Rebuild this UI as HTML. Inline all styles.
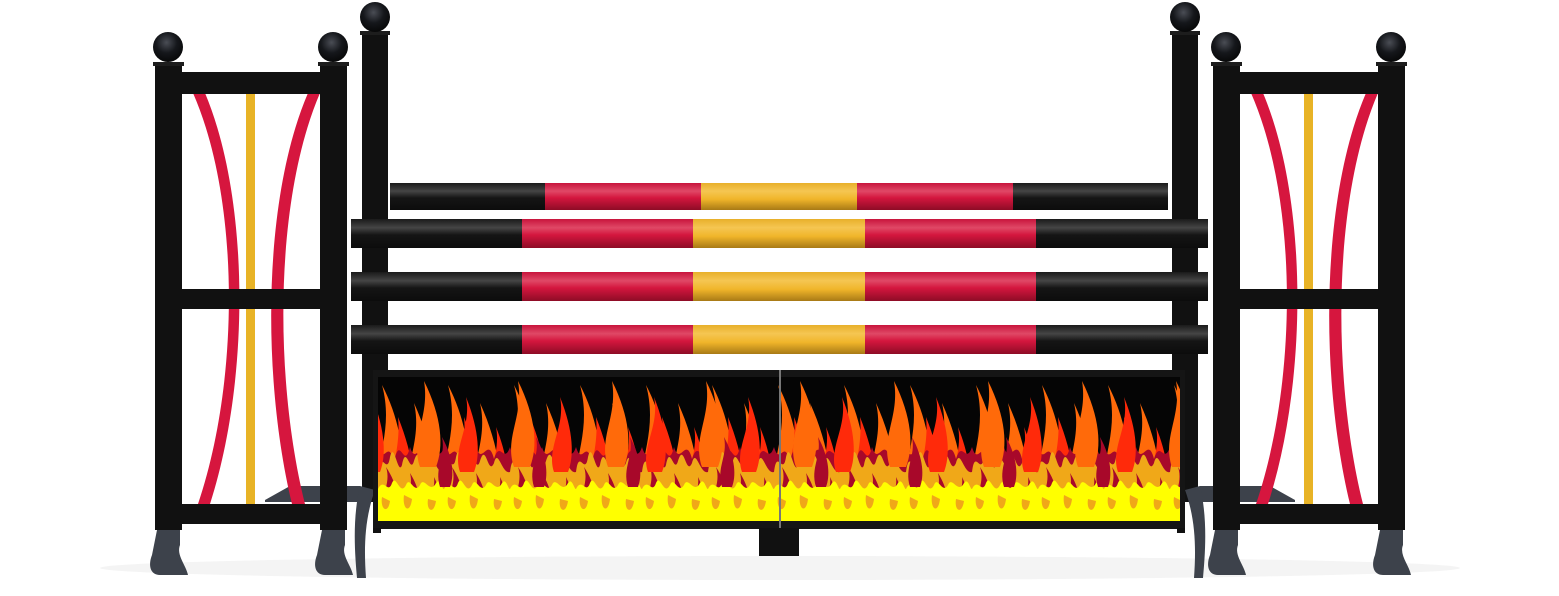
<!DOCTYPE html>
<html><head><meta charset="utf-8"><style>html,body{margin:0;padding:0;background:#fff;width:1559px;height:596px;overflow:hidden}svg{display:block}</style></head>
<body>
<svg width="1559" height="596" viewBox="0 0 1559 596" xmlns="http://www.w3.org/2000/svg">
<defs>
<linearGradient id="gk" x1="0" y1="0" x2="0" y2="1"><stop offset="0" stop-color="#1a1a1a"/><stop offset="0.3" stop-color="#454545"/><stop offset="0.55" stop-color="#151515"/><stop offset="1" stop-color="#0c0c0c"/></linearGradient>
<linearGradient id="gr" x1="0" y1="0" x2="0" y2="1"><stop offset="0" stop-color="#c8143c"/><stop offset="0.3" stop-color="#e04866"/><stop offset="0.55" stop-color="#d4163e"/><stop offset="1" stop-color="#8e0c26"/></linearGradient>
<linearGradient id="gy" x1="0" y1="0" x2="0" y2="1"><stop offset="0" stop-color="#e8b02a"/><stop offset="0.3" stop-color="#f5c652"/><stop offset="0.6" stop-color="#f0b52a"/><stop offset="1" stop-color="#a87a16"/></linearGradient>
<radialGradient id="ball" cx="0.45" cy="0.35" r="0.7"><stop offset="0" stop-color="#4a4d55"/><stop offset="0.5" stop-color="#15171b"/><stop offset="1" stop-color="#050505"/></radialGradient>
<pattern id="fl" x="378" y="377" width="66" height="144" patternUnits="userSpaceOnUse">
<rect width="66" height="144" fill="#050505"/>
<path d="M0,144 C-10,90 18,60 4,8 C26,50 30,100 24,144Z" fill="#ff6a0a"/>
<path d="M30,144 C18,100 46,70 36,26 C56,70 60,110 56,144Z" fill="#ff6a0a"/>
<path d="M12,144 C4,110 24,80 20,40 C36,80 40,115 34,144Z" fill="#ff2a0a"/>
<path d="M44,144 C36,110 58,80 52,50 C68,90 66,120 64,144Z" fill="#ff2a0a"/>
<path d="M0,144 L0,70 C6,90 10,60 16,85 C22,55 26,95 32,70 C38,90 44,58 50,82 C56,62 60,88 66,70 L66,144Z" fill="#a8082a"/>
<path d="M0,144 L0,95 C3,70 9,100 12,80 C16,62 20,100 24,88 C28,66 32,98 36,84 C42,64 44,100 50,86 C54,70 58,98 66,95 L66,144Z" fill="#f0a818"/>
<path d="M6,144 C0,120 14,108 8,90 C20,108 22,125 18,144Z M30,144 C26,120 36,112 32,96 C42,112 44,128 42,144Z M52,144 C48,124 58,114 56,100 C64,116 64,130 62,144Z" fill="#a8082a"/>
<path d="M0,144 L0,112 C6,100 10,118 14,106 C18,96 22,120 28,108 C32,98 36,118 42,108 C46,98 52,118 58,106 C62,100 64,112 66,112 L66,144Z" fill="#ffff00"/>
<path d="M4,120 C2,132 10,138 12,124Z M26,118 C24,132 32,138 34,122Z M50,122 C48,134 56,138 58,124Z" fill="#f0a818"/>
</pattern>
<pattern id="fl2" x="400" y="377" width="94" height="144" patternUnits="userSpaceOnUse">
<path d="M20,90 C10,60 30,40 24,4 C42,40 44,70 36,90Z" fill="#ff6a0a"/>
<path d="M60,95 C52,70 72,50 66,20 C80,55 80,80 74,95Z" fill="#ff2a0a"/>
<path d="M40,110 C34,90 46,80 42,60 C54,82 54,100 50,110Z" fill="#a8082a"/>
</pattern>
</defs>

<ellipse cx="780" cy="568" rx="680" ry="12" fill="#f4f4f4"/>

<path d="M265,500 L290,486 L360,486 L360,502 L265,502Z" fill="#3d424b"/>
<path d="M1295,500 L1270,486 L1200,486 L1200,502 L1295,502Z" fill="#3d424b"/>

<rect x="362" y="32" width="26" height="470" fill="#111"/>
<rect x="1172" y="32" width="26" height="470" fill="#111"/>
<rect x="360" y="31" width="30" height="4" fill="#1d1d1d"/>
<rect x="1170" y="31" width="30" height="4" fill="#1d1d1d"/>
<circle cx="375" cy="17" r="15" fill="url(#ball)"/>
<circle cx="1185" cy="17" r="15" fill="url(#ball)"/>
<path d="M360,486 C352,520 355,555 357,578 L366,578 C364,550 364,520 375,490Z" fill="#3d424b"/>
<path d="M1200,486 C1208,520 1205,555 1203,578 L1194,578 C1196,550 1196,520 1185,490Z" fill="#3d424b"/>

<g>
<rect x="390" y="183" width="155" height="27" fill="url(#gk)"/><rect x="545" y="183" width="156" height="27" fill="url(#gr)"/><rect x="701" y="183" width="156" height="27" fill="url(#gy)"/><rect x="857" y="183" width="156" height="27" fill="url(#gr)"/><rect x="1013" y="183" width="155" height="27" fill="url(#gk)"/>
</g>
<g id="p2">
<rect x="351" y="219" width="171" height="29" fill="url(#gk)"/><rect x="522" y="219" width="171" height="29" fill="url(#gr)"/><rect x="693" y="219" width="172" height="29" fill="url(#gy)"/><rect x="865" y="219" width="171" height="29" fill="url(#gr)"/><rect x="1036" y="219" width="172" height="29" fill="url(#gk)"/>
</g>
<use href="#p2" y="53"/>
<use href="#p2" y="106"/>

<rect x="373" y="370" width="812" height="159" fill="#151515"/>
<rect x="378" y="377" width="802" height="144" fill="url(#fl)"/>
<rect x="378" y="377" width="802" height="144" fill="url(#fl2)"/>
<rect x="779" y="370" width="2" height="159" fill="#777"/>
<rect x="759" y="528" width="40" height="28" fill="#111"/>
<rect x="373" y="528" width="8" height="5" fill="#111"/>
<rect x="1177" y="528" width="8" height="5" fill="#111"/>

<g id="wing">
<path d="M193,93 C240,200 240,380 198,504 L210,504 C250,380 250,200 205,93Z" fill="#d6163e"/>
<path d="M308,93 C262,200 262,380 292,504 L305,504 C274,380 274,200 320,93Z" fill="#d6163e"/>
<rect x="246" y="93" width="9" height="411" fill="#e8b326"/>
<rect x="180" y="72" width="142" height="22" fill="#111"/>
<rect x="180" y="289" width="142" height="20" fill="#111"/>
<rect x="180" y="504" width="142" height="20" fill="#111"/>
<rect x="155" y="64" width="27" height="466" fill="#111"/>
<rect x="320" y="64" width="27" height="466" fill="#111"/>
<rect x="153" y="62" width="31" height="4" fill="#1d1d1d"/>
<rect x="318" y="62" width="31" height="4" fill="#1d1d1d"/>
<circle cx="168" cy="47" r="15" fill="url(#ball)"/>
<circle cx="333" cy="47" r="15" fill="url(#ball)"/>
<path d="M157,530 L180,530 L180,545 C176,555 186,565 188,575 L160,575 C150,575 148,565 152,555Z" fill="#3d424b"/>
<path d="M322,530 L345,530 L345,545 C341,555 351,565 353,575 L325,575 C315,575 313,565 317,555Z" fill="#3d424b"/>
</g>
<use href="#wing" x="1058"/>
</svg>
</body></html>
